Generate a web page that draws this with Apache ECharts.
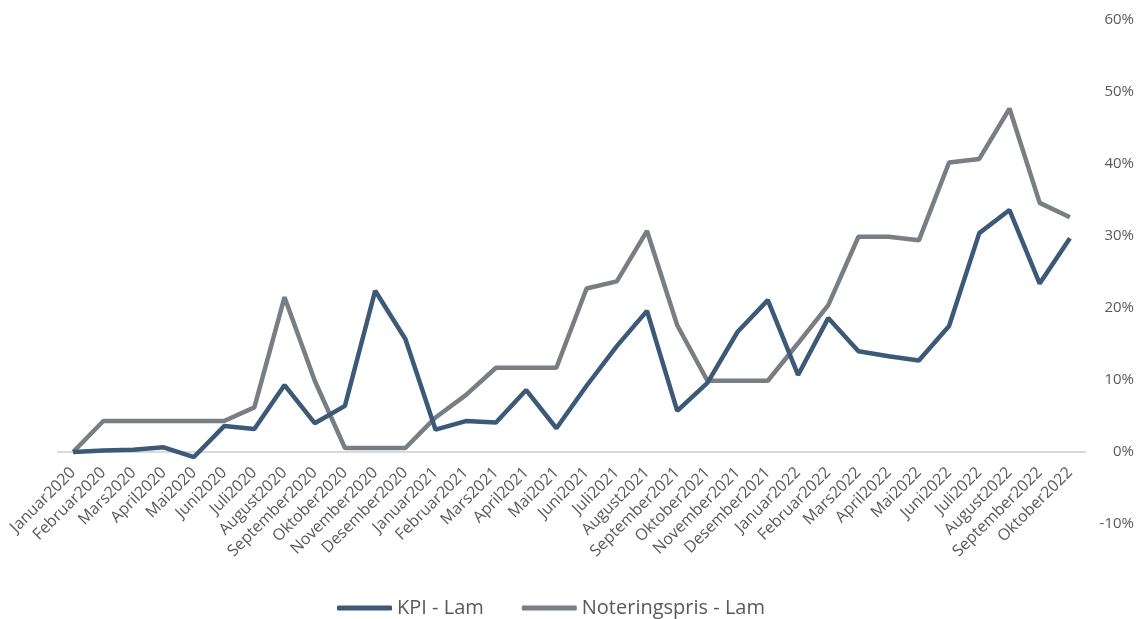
<!DOCTYPE html>
<html>
<head>
<meta charset="utf-8">
<script src="https://cdn.jsdelivr.net/npm/echarts@6/dist/echarts.min.js"></script>
<style>
  html, body { margin: 0; padding: 0; background: #fff; }
  #chart { width: 1148px; height: 619px; }
</style>
</head>
<body>
<div id="chart"></div>
<script>
var months = [
  "Januar2020", "Februar2020", "Mars2020", "April2020", "Mai2020", "Juni2020",
  "Juli2020", "August2020", "September2020", "Oktober2020", "November2020", "Desember2020",
  "Januar2021", "Februar2021", "Mars2021", "April2021", "Mai2021", "Juni2021",
  "Juli2021", "August2021", "September2021", "Oktober2021", "November2021", "Desember2021",
  "Januar2022", "Februar2022", "Mars2022", "April2022", "Mai2022", "Juni2022",
  "Juli2022", "August2022", "September2022", "Oktober2022"
];

// percent values
var kpiLam = [
  0, 0.2, 0.3, 0.65, -0.7, 3.6, 3.2, 9.3, 4.0, 6.4, 22.4, 15.7,
  3.1, 4.3, 4.1, 8.6, 3.3, 9.2, 14.7, 19.6, 5.7, 9.6, 16.7, 21.1,
  10.7, 18.6, 14.0, 13.3, 12.7, 17.5, 30.4, 33.6, 23.4, 29.7
];
var noteringLam = [
  0, 4.3, 4.3, 4.3, 4.3, 4.3, 6.2, 21.5, 9.9, 0.55, 0.55, 0.55,
  4.8, 7.9, 11.7, 11.7, 11.7, 22.7, 23.7, 30.7, 17.6, 9.9, 9.9, 9.9,
  15.1, 20.4, 29.9, 29.9, 29.4, 40.2, 40.7, 47.7, 34.6, 32.6
];

var yMin = -10, yMax = 60, yStep = 10;

var chart = echarts.init(document.getElementById("chart"));
var textColor = "#595959";
var font = "'Open Sans', 'Noto Sans', sans-serif";

chart.setOption({
  animation: false,
  grid: { left: 58, right: 63, top: 20, bottom: 95, containLabel: false },
  legend: {
    top: 593,
    left: 332,
    itemWidth: 55,
    itemHeight: 5,
    itemGap: 38,
    icon: "roundRect",
    textStyle: { color: textColor, fontSize: 20, fontFamily: font },
    data: ["KPI - Lam", "Noteringspris - Lam"]
  },
  xAxis: {
    type: "category",
    data: months,
    boundaryGap: true,
    axisLine: { onZero: true, lineStyle: { color: "#d9d9d9", width: 2 } },
    axisTick: { show: false },
    axisLabel: {
      rotate: 45,
      interval: 0,
      color: textColor,
      fontSize: 16,
      fontFamily: font,
      // labels sit under the 0% line, not at the bottom of the grid
      margin: -54
    }
  },
  yAxis: {
    type: "value",
    position: "right",
    min: yMin,
    max: yMax,
    interval: yStep,
    splitLine: { show: false },
    axisLine: { show: false },
    axisTick: { show: false },
    axisLabel: {
      color: textColor,
      fontSize: 15,
      fontFamily: font,
      align: "right",
      margin: 49,
      formatter: function (v) { return v + "%"; }
    }
  },
  series: [
    {
      name: "KPI - Lam",
      type: "line",
      data: kpiLam,
      symbol: "none",
      lineStyle: { color: "#3c5978", width: 4.5 },
      itemStyle: { color: "#3c5978" },
      z: 3
    },
    {
      name: "Noteringspris - Lam",
      type: "line",
      data: noteringLam,
      symbol: "none",
      lineStyle: { color: "#787e84", width: 4.5 },
      itemStyle: { color: "#787e84" },
      z: 2
    }
  ]
});
</script>
</body>
</html>
